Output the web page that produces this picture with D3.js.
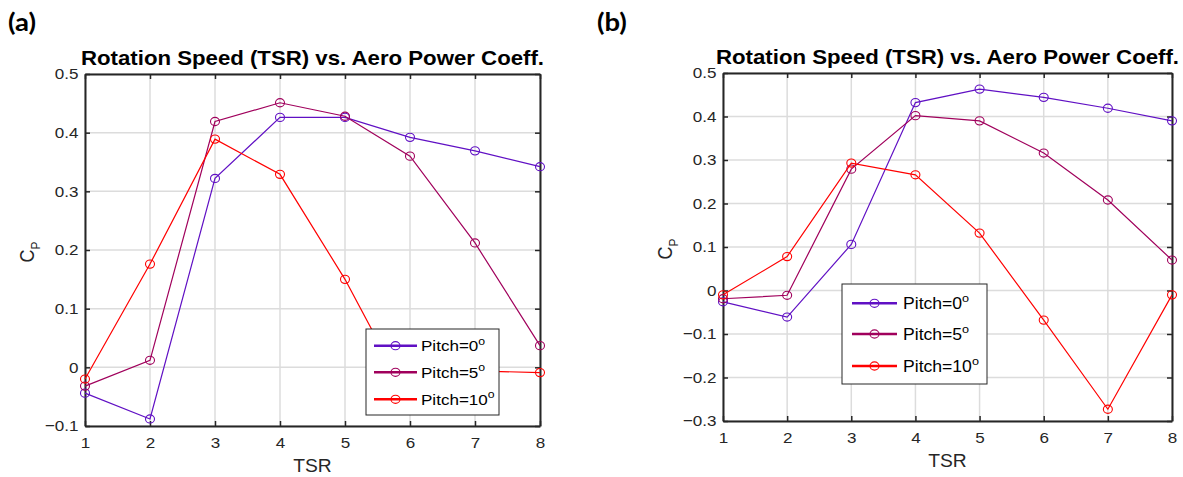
<!DOCTYPE html>
<html>
<head>
<meta charset="utf-8">
<script src="https://cdn.jsdelivr.net/npm/d3@7"></script>
<style>
  html, body { margin: 0; padding: 0; background: #fff; }
  svg { display: block; }
  text { font-family: "Liberation Sans", Arial, sans-serif; fill: #262626; }
</style>
</head>
<body>
<svg id="fig" width="1183" height="477"></svg>
<script>
// Tip speed ratio on the x axis
const tsr = [1, 2, 3, 4, 5, 6, 7, 8];

// (a) aerodynamic power coefficient per pitch angle
const cpA_pitch0  = [-0.044, -0.088, 0.322, 0.426, 0.426, 0.392, 0.369, 0.342];
const cpA_pitch5  = [-0.032, 0.012, 0.419, 0.451, 0.428, 0.360, 0.212, 0.037];
const cpA_pitch10 = [-0.020, 0.176, 0.389, 0.329, 0.150, -0.058, -0.006, -0.009];

// (b) aerodynamic power coefficient per pitch angle
const cpB_pitch0  = [-0.026, -0.061, 0.106, 0.432, 0.463, 0.444, 0.419, 0.390];
const cpB_pitch5  = [-0.019, -0.011, 0.279, 0.402, 0.390, 0.316, 0.208, 0.070];
const cpB_pitch10 = [-0.010, 0.078, 0.293, 0.266, 0.132, -0.068, -0.273, -0.010];

// Tick labels
const xTicks  = [1, 2, 3, 4, 5, 6, 7, 8];
const yTicksA = [-0.1, 0, 0.1, 0.2, 0.3, 0.4, 0.5];
const yTicksB = [-0.3, -0.2, -0.1, 0, 0.1, 0.2, 0.3, 0.4, 0.5];

// Legend entries (pitch angle in degrees)
const pitchAngles = [0, 5, 10];

const titleText = "Rotation Speed (TSR) vs. Aero Power Coeff.";
const seriesColors = ["#6010c4", "#a0005c", "#ff0000"];
const SX = 1.1; // horizontal text stretch of the figure

const svg = d3.select("#fig");

function stretch(sel) {
  sel.each(function () {
    const t = d3.select(this);
    const prev = t.attr("transform") || "";
    t.attr("transform", prev + ` scale(${SX},1)`);
  });
}

function placedText(g, x, y, str, size, opts = {}) {
  const t = g.append("text")
    .attr("transform", `translate(${x},${y}) scale(${SX},1)` + (opts.rotate ? ` rotate(${opts.rotate})` : ""))
    .attr("text-anchor", opts.anchor || "middle")
    .style("font-size", size + "px");
  if (opts.weight) t.style("font-weight", opts.weight);
  if (opts.family) t.style("font-family", opts.family);
  if (opts.fill) t.style("fill", opts.fill);
  if (str !== null) t.text(str);
  return t;
}

function drawPanel(cfg) {
  const g = svg.append("g");
  const x = d3.scaleLinear().domain([1, 8]).range([cfg.left, cfg.right]);
  const y = d3.scaleLinear().domain(cfg.yDomain).range([cfg.bottom, cfg.top]);

  // grid
  const grid = g.append("g").attr("stroke", "#dcdcdc").attr("stroke-width", 1.5);
  grid.selectAll(".gx").data(xTicks).join("line")
    .attr("x1", d => x(d)).attr("x2", d => x(d))
    .attr("y1", cfg.top).attr("y2", cfg.bottom);
  grid.selectAll(".gy").data(cfg.yTicks).join("line")
    .attr("x1", cfg.left).attr("x2", cfg.right)
    .attr("y1", d => y(d)).attr("y2", d => y(d));

  // axes: inward ticks on all four sides
  const fmtY = d => (d === 0 ? "0" : d3.format(".1f")(d));
  const axB = g.append("g").attr("transform", `translate(0,${cfg.bottom})`)
    .call(d3.axisBottom(x).tickValues(xTicks).tickSizeInner(-5).tickSizeOuter(0).tickPadding(11).tickFormat(d3.format("d")));
  const axL = g.append("g").attr("transform", `translate(${cfg.left},0)`)
    .call(d3.axisLeft(y).tickValues(cfg.yTicks).tickSizeInner(-5).tickSizeOuter(0).tickPadding(6).tickFormat(fmtY));
  const axT = g.append("g").attr("transform", `translate(0,${cfg.top})`)
    .call(d3.axisTop(x).tickValues(xTicks).tickSizeInner(-5).tickSizeOuter(0).tickFormat(""));
  const axR = g.append("g").attr("transform", `translate(${cfg.right},0)`)
    .call(d3.axisRight(y).tickValues(cfg.yTicks).tickSizeInner(-5).tickSizeOuter(0).tickFormat(""));
  [axB, axL, axT, axR].forEach(a => {
    a.select(".domain").attr("stroke", "#262626").attr("stroke-width", 2);
    a.selectAll(".tick line").attr("stroke", "#262626").attr("stroke-width", 1.5);
    a.selectAll(".tick text").style("font-size", "15.5px").style("fill", "#262626")
      .style("font-family", '"Liberation Sans", Arial, sans-serif');
  });
  axB.selectAll(".tick text").call(stretch);
  axL.selectAll(".tick text").call(stretch);

  // series
  const line = d3.line().x((d, i) => x(tsr[i])).y(d => y(d));
  cfg.series.forEach((vals, k) => {
    g.append("path").datum(vals)
      .attr("d", line).attr("fill", "none")
      .attr("stroke", seriesColors[k]).attr("stroke-width", 1.2);
    g.selectAll(null).data(vals).join("ellipse")
      .attr("cx", (d, i) => x(tsr[i])).attr("cy", d => y(d))
      .attr("rx", 4.5).attr("ry", 4.1)
      .attr("fill", "none").attr("stroke", seriesColors[k]).attr("stroke-width", 1.1);
  });

  // title, axis labels
  placedText(g, (cfg.left + cfg.right) / 2, cfg.titleY, titleText, 20.2, { weight: "bold", fill: "#000" });
  placedText(g, (cfg.left + cfg.right) / 2, cfg.bottom + 46, "TSR", 17.5);
  const yl = placedText(g, cfg.left - 51, (cfg.top + cfg.bottom) / 2 + 2, null, 18, { rotate: -90 });
  yl.append("tspan").text("C");
  yl.append("tspan").attr("dy", 5).style("font-size", "12px").text("P");

  // panel tag
  placedText(g, cfg.tagX, 31, cfg.tag, 25, { anchor: "start", weight: "bold", family: "Lato, 'Open Sans', sans-serif", fill: "#000" });

  // legend
  const L = cfg.legend;
  const lg = g.append("g");
  lg.append("rect").attr("x", L.x0).attr("y", L.y0)
    .attr("width", L.x1 - L.x0).attr("height", L.y1 - L.y0)
    .attr("fill", "#fff").attr("stroke", "#262626").attr("stroke-width", 1);
  pitchAngles.forEach((p, k) => {
    const ry = L.rows[k];
    lg.append("line").attr("x1", L.lx0).attr("x2", L.lx1).attr("y1", ry).attr("y2", ry)
      .attr("stroke", seriesColors[k]).attr("stroke-width", 2.4);
    lg.append("ellipse").attr("cx", (L.lx0 + L.lx1) / 2).attr("cy", ry)
      .attr("rx", 4.5).attr("ry", 4.1).attr("fill", "none")
      .attr("stroke", seriesColors[k]).attr("stroke-width", 1.1);
    const t = placedText(lg, L.tx, ry + L.fs * 0.36, null, L.fs, { anchor: "start", fill: "#000" });
    t.append("tspan").text(`Pitch=${p}`);
    t.append("tspan").attr("dy", -L.fs * 0.42).style("font-size", (L.fs * 0.72) + "px").text("o");
  });
}

drawPanel({
  tag: "(a)", tagX: 8,
  left: 85, right: 540, top: 74, bottom: 426, titleY: 65,
  yDomain: [-0.1, 0.5], yTicks: yTicksA,
  series: [cpA_pitch0, cpA_pitch5, cpA_pitch10],
  legend: { x0: 366, x1: 499, y0: 329, y1: 415, rows: [345.7, 372.3, 399.3], lx0: 374, lx1: 417, tx: 421, fs: 15.5 }
});

drawPanel({
  tag: "(b)", tagX: 597,
  left: 723, right: 1172, top: 73, bottom: 421, titleY: 64,
  yDomain: [-0.3, 0.5], yTicks: yTicksB,
  series: [cpB_pitch0, cpB_pitch5, cpB_pitch10],
  legend: { x0: 842, x1: 987, y0: 284, y1: 384, rows: [303.3, 334, 366], lx0: 852, lx1: 897, tx: 903, fs: 16 }
});
</script>
</body>
</html>
